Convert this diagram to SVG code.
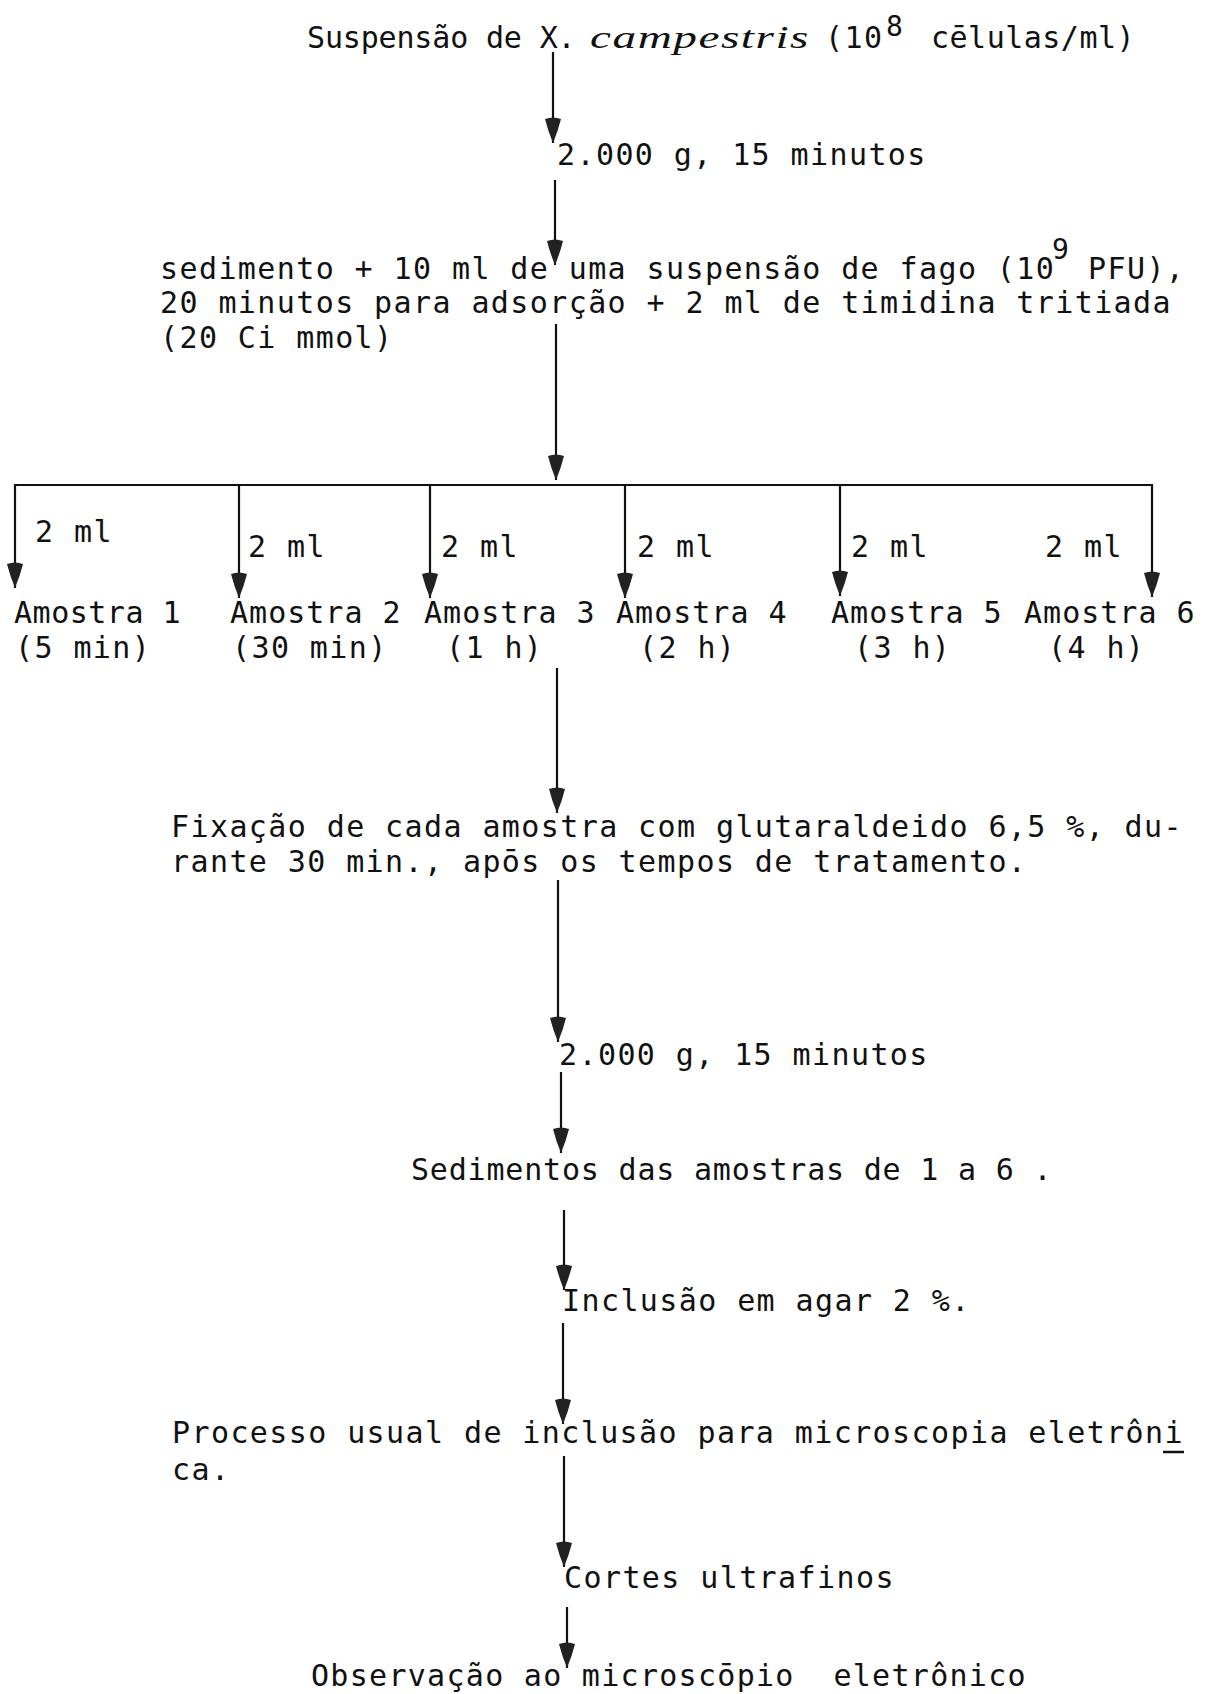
<svg xmlns="http://www.w3.org/2000/svg" width="1209" height="1694" viewBox="0 0 1209 1694">
<style>
text{font-family:"DejaVu Sans Mono","Liberation Mono",monospace;font-size:30px;letter-spacing:1.4px;fill:#111}
.it{font-family:"Liberation Serif",serif;font-style:italic;font-size:31px;letter-spacing:1px}
.sup{font-size:28px}
.ln{stroke:#111;stroke-width:2.2;fill:none}
</style>
<defs>
<marker id="ah" viewBox="-27 -10 29 20" refX="0" refY="0" markerWidth="29" markerHeight="20" markerUnits="userSpaceOnUse" orient="auto">
<path d="M-24,-8 Q-12,-5 0,0 Q-12,5 -24,8 Q-27,0 -24,-8 Z" fill="#222"/>
</marker>
</defs>
<rect width="1209" height="1694" fill="#fff"/>
<g id="connectors">
<line class="ln" x1="553" y1="52" x2="553" y2="143" marker-end="url(#ah)"/>
<line class="ln" x1="555" y1="180" x2="555" y2="265" marker-end="url(#ah)"/>
<line class="ln" x1="556" y1="324" x2="556" y2="480" marker-end="url(#ah)"/>
<polyline class="ln" points="15,485 1152,485 1152,597" marker-end="url(#ah)"/>
<line class="ln" x1="15" y1="484" x2="15" y2="588" marker-end="url(#ah)"/>
<line class="ln" x1="239" y1="485" x2="239" y2="598" marker-end="url(#ah)"/>
<line class="ln" x1="430" y1="485" x2="430" y2="598" marker-end="url(#ah)"/>
<line class="ln" x1="625" y1="485" x2="625" y2="598" marker-end="url(#ah)"/>
<line class="ln" x1="840" y1="485" x2="840" y2="596" marker-end="url(#ah)"/>
<line class="ln" x1="557" y1="668" x2="557" y2="813" marker-end="url(#ah)"/>
<line class="ln" x1="558" y1="880" x2="558" y2="1042" marker-end="url(#ah)"/>
<line class="ln" x1="561" y1="1072" x2="561" y2="1153" marker-end="url(#ah)"/>
<line class="ln" x1="564" y1="1210" x2="564" y2="1290" marker-end="url(#ah)"/>
<line class="ln" x1="563" y1="1323" x2="563" y2="1424" marker-end="url(#ah)"/>
<line class="ln" x1="564" y1="1456" x2="564" y2="1567" marker-end="url(#ah)"/>
<line class="ln" x1="567" y1="1607" x2="567" y2="1668" marker-end="url(#ah)"/>
</g>
<g id="n1">
<text x="307" y="48" textLength="270" lengthAdjust="spacing">Suspensão de X.</text>
<text class="it" x="590" y="48" textLength="220" lengthAdjust="spacingAndGlyphs">campestris</text>
<text x="825" y="48">(10</text>
<text class="sup" x="886" y="36">8</text>
<text x="931" y="48" textLength="205" lengthAdjust="spacing">cēlulas/ml)</text>
</g>
<g id="n2"><text x="557" y="165">2.000 g, 15 minutos</text></g>
<g id="n3">
<text x="160" y="279">sedimento + 10 ml de uma suspensão de fago (10</text>
<text class="sup" x="1052" y="259">9</text>
<text x="1088" y="279">PFU),</text>
<text x="160" y="313">20 minutos para adsorção + 2 ml de timidina tritiada</text>
<text x="160" y="348">(20 Ci mmol)</text>
</g>
<g id="l1"><text x="35" y="542">2 ml</text></g>
<g id="l2"><text x="248" y="557">2 ml</text></g>
<g id="l3"><text x="441" y="557">2 ml</text></g>
<g id="l4"><text x="637" y="557">2 ml</text></g>
<g id="l5"><text x="851" y="557">2 ml</text></g>
<g id="l6"><text x="1045" y="557">2 ml</text></g>
<g id="a1"><text x="14" y="623" textLength="168" lengthAdjust="spacing">Amostra 1</text><text x="15" y="658">(5 min)</text></g>
<g id="a2"><text x="230" y="623" textLength="172" lengthAdjust="spacing">Amostra 2</text><text x="232" y="658">(30 min)</text></g>
<g id="a3"><text x="424" y="623" textLength="172" lengthAdjust="spacing">Amostra 3</text><text x="446" y="658">(1 h)</text></g>
<g id="a4"><text x="616" y="623" textLength="172" lengthAdjust="spacing">Amostra 4</text><text x="639" y="658">(2 h)</text></g>
<g id="a5"><text x="831" y="623" textLength="172" lengthAdjust="spacing">Amostra 5</text><text x="854" y="658">(3 h)</text></g>
<g id="a6"><text x="1024" y="623" textLength="172" lengthAdjust="spacing">Amostra 6</text><text x="1048" y="658">(4 h)</text></g>
<g id="n4">
<text x="171" y="837">Fixação de cada amostra com glutaraldeido 6,5 %, du-</text>
<text x="171" y="872">rante 30 min., apōs os tempos de tratamento.</text>
</g>
<g id="n5"><text x="559" y="1065">2.000 g, 15 minutos</text></g>
<g id="n6"><text x="411" y="1180" textLength="642" lengthAdjust="spacing">Sedimentos das amostras de 1 a 6 .</text></g>
<g id="n7"><text x="562" y="1311">Inclusão em agar 2 %.</text></g>
<g id="n8">
<text x="172" y="1443">Processo usual de inclusão para microscopia eletrôni</text>
<line x1="1163" y1="1452" x2="1184" y2="1452" stroke="#111" stroke-width="2.5"/>
<text x="172" y="1480">ca.</text>
</g>
<g id="n9"><text x="564" y="1588">Cortes ultrafinos</text></g>
<g id="n10"><text x="311" y="1686" xml:space="preserve" textLength="716" lengthAdjust="spacing">Observação ao microscōpio  eletrônico</text></g>
</svg>
